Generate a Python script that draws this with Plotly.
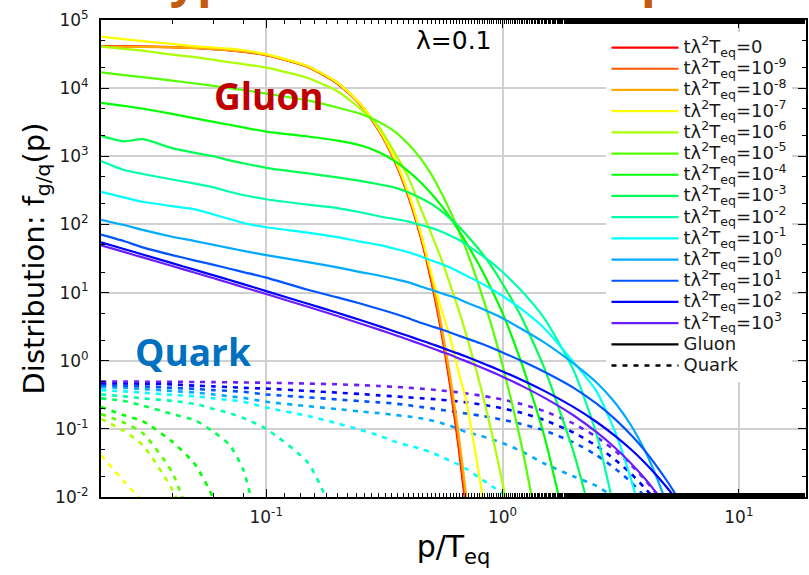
import plotly.graph_objects as go

# momentum grid p/T_eq
P = [0.02, 0.025, 0.03, 0.04, 0.05, 0.06, 0.07, 0.08, 0.1, 0.15, 0.2, 0.25, 0.3, 0.35, 0.4, 0.45,
     0.5, 0.55, 0.6, 0.65, 0.7, 0.8, 0.9, 1.0, 1.2, 1.5, 2.0, 2.5, 3.0, 3.5, 4.0, 4.5, 5.0, 5.5, 6.0]

TIME_LABELS = ["0", "10<sup>-9</sup>", "10<sup>-8</sup>", "10<sup>-7</sup>", "10<sup>-6</sup>",
               "10<sup>-5</sup>", "10<sup>-4</sup>", "10<sup>-3</sup>", "10<sup>-2</sup>",
               "10<sup>-1</sup>", "10<sup>0</sup>", "10<sup>1</sup>", "10<sup>2</sup>", "10<sup>3</sup>"]
COLORS = ["#ff0000", "#ff5500", "#ffaa00", "#ffff00", "#aaff00", "#55ff00", "#00ff00",
          "#00ff55", "#00ffaa", "#00ffff", "#00aaff", "#0055ff", "#0000ff", "#6a1eff"]

# gluon distributions
G_T0 = [4.15e4, 4.12e4, 4.08e4, 3.99e4, 3.88e4, 3.74e4, 3.59e4, 3.42e4, 3.05e4, 2.05e4, 1.17e4, 5.7e3,
        2.37e3, 840, 254, 66, 14.4, 2.7, 0.43, 0.058, 0.0068]
G_T9 = [4.1e4, 4.1e4, 4.07e4, 3.98e4, 3.88e4, 3.75e4, 3.6e4, 3.43e4, 3.07e4, 2.07e4, 1.19e4, 5.8e3,
        2.42e3, 860, 265, 70, 15.8, 3.0, 0.5, 0.07, 0.0085, 1e-4]
G_T8 = [4.05e4, 4.05e4, 4.03e4, 3.96e4, 3.87e4, 3.75e4, 3.61e4, 3.45e4, 3.1e4, 2.1e4, 1.21e4, 5.9e3,
        2.48e3, 880, 275, 75, 17.5, 3.4, 0.6, 0.09, 0.011, 1.5e-4]
G_T7 = [5.7e4, 5.25e4, 4.9e4, 4.45e4, 4.1e4, 3.95e4, 3.8e4, 3.6e4, 3.15e4, 2.1e4, 1.2e4, 5.9e3,
        2.5e3, 920, 290, 76, 19, 5.8, 2.2, 0.71, 0.27, 0.019, 0.0015]
G_T6 = [4.06e4, 3.76e4, 3.55e4, 3.1e4, 2.85e4, 2.6e4, 2.4e4, 2.25e4, 2.0e4, 1.41e4, 9.0e3, 5.0e3,
        2.7e3, 1.12e3, 490, 174, 72, 31.6, 13.2, 5.75, 2.5, 0.47, 0.087, 0.016, 6e-4]
G_T5 = [1.7e4, 1.55e4, 1.45e4, 1.29e4, 1.17e4, 1.08e4, 1.0e4, 9.4e3, 8.3e3, 6.6e3, 5.2e3, 4.2e3,
        3.2e3, 2.3e3, 1.5e3, 930, 540, 295, 158, 83, 44, 11.7, 3.2, 0.85, 0.06, 1.1e-3]
G_T4 = [6.1e3, 5.5e3, 5.0e3, 4.2e3, 3.6e3, 3.2e3, 2.9e3, 2.65e3, 2.3e3, 1.95e3, 1.7e3, 1.45e3,
        1.15e3, 850, 600, 417, 282, 190, 126, 83, 55, 24.5, 11, 5.0, 0.95, 0.08, 1.1e-3]
G_T3 = [2.0e3, 1.66e3, 1.78e3, 1.32e3, 1.12e3, 1.0e3, 870, 790, 676, 562, 490, 436, 389, 347, 295,
        245, 200, 158, 123, 95, 72, 42, 24, 13.5, 4.4, 0.79, 0.045, 2.5e-3]
G_T2 = [850, 630, 550, 457, 398, 350, 302, 270, 234, 195, 174, 151, 132, 120, 110, 98, 89, 79, 69,
        60, 51, 37, 27.5, 20, 10.7, 4.2, 0.72, 0.083, 5.6e-3]
G_T1 = [300, 250, 215, 186, 166, 140, 120, 105, 91, 76, 65, 56, 50, 44, 39, 34, 29.5, 26.3, 23.4,
        20.4, 17.8, 14.1, 11.2, 8.9, 5.75, 3.0, 0.95, 0.355, 0.089, 0.018, 3.5e-3]
G_P0 = [117, 98, 83, 66, 57, 50, 45, 41, 35.5, 28, 23.4, 20, 17.8, 15.8, 14.1, 12.3, 11, 9.8, 8.9,
        8.1, 7.2, 6.0, 5.0, 4.2, 2.95, 1.86, 0.91, 0.48, 0.24, 0.112, 0.048, 0.019, 7.2e-3]
G_P1 = [71, 57, 46, 35.5, 29.5, 25.5, 22.4, 20, 16.6, 11, 8.5, 6.9, 5.75, 4.9, 4.2, 3.6, 3.2, 2.9,
        2.6, 2.34, 2.14, 1.82, 1.55, 1.32, 1.0, 0.69, 0.40, 0.234, 0.138, 0.081, 0.048, 0.028,
        0.0166, 9.8e-3, 5.6e-3]
G_P2 = [54.5, 43.5, 36.2, 27.0, 21.5, 17.9, 15.3, 13.3, 10.5, 6.86, 5.05, 3.95, 3.22, 2.69, 2.30,
        2.0, 1.76, 1.57, 1.40, 1.27, 1.15, 0.958, 0.812, 0.696, 0.525, 0.361, 0.208, 0.126,
        0.0783, 0.0497, 0.0319, 0.0205, 0.0133, 8.62e-3, 5.6e-3]
G_P3 = [49.5, 39.5, 32.8, 24.5, 19.5, 16.2, 13.8, 12.0, 9.51, 6.18, 4.52, 3.52, 2.86, 2.39, 2.03,
        1.76, 1.54, 1.36, 1.22, 1.09, 0.986, 0.816, 0.686, 0.582, 0.431, 0.287, 0.157, 0.0894,
        0.0524, 0.0311, 0.0187, 0.0112, 6.78e-3]
GLUON = [G_T0, G_T9, G_T8, G_T7, G_T6, G_T5, G_T4, G_T3, G_T2, G_T1, G_P0, G_P1, G_P2, G_P3]

# quark distributions (none visible for the three earliest times)
Q_T7 = [0.041, 0.017, 0.0085, 0.002]
Q_T6 = [0.14, 0.093, 0.058, 0.013, 0.002]
Q_T5 = [0.165, 0.123, 0.087, 0.023, 0.0028]
Q_T4 = [0.21, 0.158, 0.13, 0.065, 0.03, 0.0093, 0.002]
Q_T3 = [0.28, 0.257, 0.22, 0.165, 0.134, 0.09, 0.058, 0.025, 0.001]
Q_T2 = [0.32, 0.30, 0.28, 0.257, 0.232, 0.195, 0.17, 0.144, 0.1, 0.032, 0.004]
Q_T1 = [0.37, 0.355, 0.34, 0.315, 0.30, 0.28, 0.265, 0.25, 0.205, 0.155, 0.12, 0.097, 0.08, 0.065,
        0.057, 0.051, 0.045, 0.039, 0.034, 0.030, 0.026, 0.019, 0.0145, 0.0112, 0.0065, 0.003]
Q_P0 = [0.41, 0.40, 0.385, 0.36, 0.34, 0.32, 0.30, 0.285, 0.25, 0.215, 0.195, 0.18, 0.17, 0.16,
        0.152, 0.143, 0.133, 0.122, 0.111, 0.10, 0.09, 0.08, 0.07, 0.062, 0.047, 0.031, 0.02,
        0.0145, 0.0095, 0.006]
Q_P1 = [0.44, 0.43, 0.42, 0.40, 0.385, 0.37, 0.36, 0.35, 0.32, 0.29, 0.27, 0.255, 0.245, 0.235,
        0.222, 0.21, 0.2, 0.19, 0.182, 0.175, 0.168, 0.157, 0.146, 0.136, 0.118, 0.095, 0.063,
        0.041, 0.026, 0.0165, 0.0102, 0.0063, 0.004]
Q_P2 = [0.47, 0.465, 0.46, 0.45, 0.43, 0.42, 0.41, 0.40, 0.39, 0.36, 0.34, 0.325, 0.31, 0.30,
        0.29, 0.282, 0.275, 0.267, 0.26, 0.252, 0.245, 0.23, 0.215, 0.20, 0.172, 0.135, 0.088,
        0.056, 0.035, 0.022, 0.0135, 0.0085, 0.005]
Q_P3 = [0.495, 0.4938, 0.4925, 0.49, 0.4875, 0.485, 0.4825, 0.48, 0.475, 0.4626, 0.4502, 0.4378,
        0.4256, 0.4134, 0.4013, 0.3894, 0.3775, 0.3659, 0.3543, 0.343, 0.3318, 0.31, 0.2891,
        0.2689, 0.2315, 0.1824, 0.1192, 0.0759, 0.0474, 0.0293, 0.018, 0.011, 0.0067]
QUARK = [None, None, None, Q_T7, Q_T6, Q_T5, Q_T4, Q_T3, Q_T2, Q_T1, Q_P0, Q_P1, Q_P2, Q_P3]

X_TICKS = [0.1, 1, 10]
X_TICKTEXT = ["10<sup>-1</sup>", "10<sup>0</sup>", "10<sup>1</sup>"]
Y_TICKS = [1e-2, 1e-1, 1, 10, 100, 1e3, 1e4, 1e5]
Y_TICKTEXT = ["10<sup>-2</sup>", "10<sup>-1</sup>", "10<sup>0</sup>", "10<sup>1</sup>",
              "10<sup>2</sup>", "10<sup>3</sup>", "10<sup>4</sup>", "10<sup>5</sup>"]

FONT = "DejaVu Sans, Liberation Sans, Arial, sans-serif"
LEG_SPAN = '<span style="font-size:18px">{}</span>'

fig = go.Figure()

for lab, col, q in zip(TIME_LABELS, COLORS, QUARK):
    if q is None:
        continue
    fig.add_trace(go.Scatter(x=P[:len(q)], y=q, mode="lines", showlegend=False,
                             line=dict(color=col, width=2.6, dash="5px,6px", shape="spline",
                                       smoothing=0.6),
                             hoverinfo="skip"))

for lab, col, g in zip(TIME_LABELS, COLORS, GLUON):
    fig.add_trace(go.Scatter(x=P[:len(g)], y=g, mode="lines",
                             name=LEG_SPAN.format("t\u03bb<sup>2</sup>T<sub>eq</sub>=" + lab),
                             line=dict(color=col, width=2.2, shape="spline", smoothing=0.6)))

fig.add_trace(go.Scatter(x=[None], y=[None], mode="lines", name=LEG_SPAN.format("Gluon"),
                         line=dict(color="black", width=2.2)))
fig.add_trace(go.Scatter(x=[None], y=[None], mode="lines", name=LEG_SPAN.format("Quark"),
                         line=dict(color="black", width=2.6, dash="5px,6px")))

axis_common = dict(type="log", showline=True, linecolor="black", linewidth=2, mirror="allticks",
                   ticks="inside", ticklen=8, tickcolor="black", tickwidth=1.2,
                   showgrid=True, gridcolor="#d0d0d0", gridwidth=1.5, zeroline=False,
                   tickfont=dict(family=FONT, size=17, color="#1a1a1a"),
                   minor=dict(ticks="inside", ticklen=4, tickcolor="black", tickwidth=1,
                              showgrid=False))

fig.update_layout(
    width=809, height=575,
    margin=dict(l=101, r=1, t=20, b=78),
    paper_bgcolor="white", plot_bgcolor="white",
    font=dict(family=FONT, color="black"),
    xaxis=dict(axis_common, range=[-1.699, 1.284], tickvals=X_TICKS, ticktext=X_TICKTEXT,
               ticklabelstandoff=4,
               title=dict(text="p/T<sub>eq</sub>", font=dict(family=FONT, size=30), standoff=10)),
    yaxis=dict(axis_common, range=[-2, 5], tickvals=Y_TICKS, ticktext=Y_TICKTEXT,
               ticklabelstandoff=7,
               title=dict(text="Distribution: f<sub>g/q</sub>(p)", font=dict(family=FONT, size=29),
                          standoff=2)),
    legend=dict(x=0.717, y=0.975, xanchor="left", yanchor="top", bgcolor="white",
                borderwidth=0, tracegroupgap=0, itemwidth=67,
                font=dict(family=FONT, size=14, color="#1a1a1a")),
    showlegend=True,
)

fig.add_annotation(x=0.239, y=0.841, xref="paper", yref="paper", text="<b>Gluon</b>",
                   xanchor="center", yanchor="middle", showarrow=False,
                   font=dict(family="Open Sans", size=37, color="#c00000"))
fig.add_annotation(x=0.130, y=0.304, xref="paper", yref="paper", text="<b>Quark</b>",
                   xanchor="center", yanchor="middle", showarrow=False,
                   font=dict(family="Open Sans", size=37, color="#0070c0"))
fig.add_annotation(x=0.5007, y=0.958, xref="paper", yref="paper", text="\u03bb=0.1",
                   xanchor="center", yanchor="middle", showarrow=False,
                   font=dict(family=FONT, size=25, color="black"))
# cropped slide heading (only descenders visible)
fig.add_annotation(x=0.056, y=1.0168, xref="paper", yref="paper", text="<b>Typ</b>",
                   xanchor="left", yanchor="bottom", showarrow=False,
                   font=dict(family="Open Sans", size=48, color="#c55a11"))
fig.add_annotation(x=0.763, y=1.0168, xref="paper", yref="paper", text="<b>p</b>",
                   xanchor="left", yanchor="bottom", showarrow=False,
                   font=dict(family="Open Sans", size=48, color="#c55a11"))

fig.write_html("out.html")
